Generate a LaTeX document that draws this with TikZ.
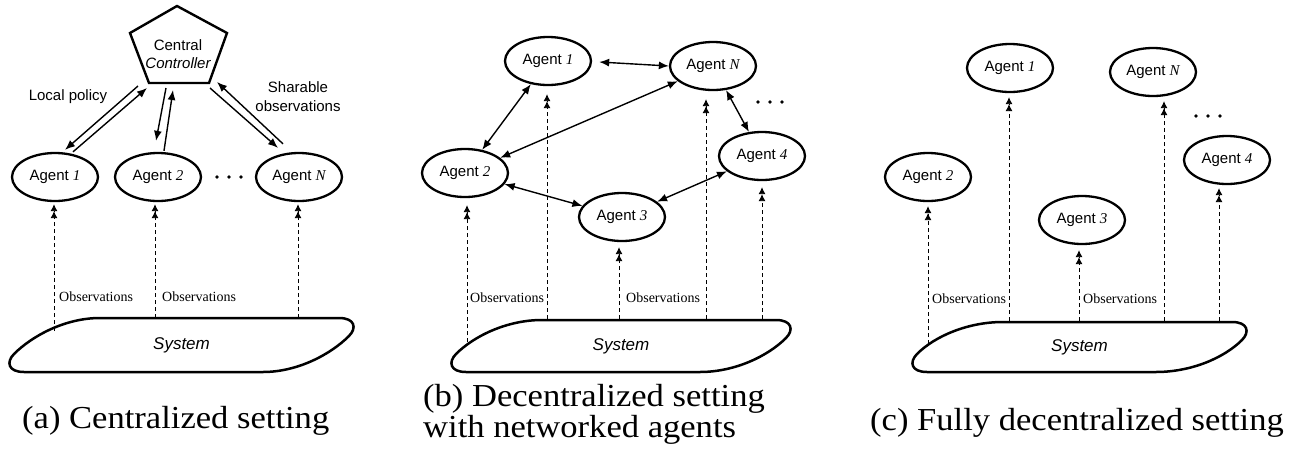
\documentclass[tikz,border=0pt]{standalone}
\usepackage{fontspec}
\usetikzlibrary{arrows.meta,shapes.geometric,calc}
\newfontfamily\lsans{Liberation Sans}
\newfontfamily\lserif{Liberation Serif}
\newfontfamily\capfont[FakeStretch=1.08]{Liberation Serif}
\newcommand\agt[1]{{\lsans Agent\ }{\lserif\itshape #1}}
\newcommand\drawsystem[5]{%
  \draw[sysline] ({#2+90},#4) -- ({#3-14},#4)
    .. controls ({#3+2},#4) and ({#3+4},{#4+10}) .. ({#3-4},{#4+18})
    .. controls ({#3-22},{#4+36}) and ({#3-55},#5) .. ({#3-90},#5)
    -- ({#2+14},#5)
    .. controls ({#2-2},#5) and ({#2-4},{#5-10}) .. ({#2+4},{#5-18})
    .. controls ({#2+22},{#5-36}) and ({#2+55},#4) .. ({#2+90},#4) -- cycle;
  \node[systext] (#1) at ({(#2+#3)/2},{(#4+#5)/2}) {System};
}
\tikzset{
  agent/.style={ellipse, draw, line width=2.3pt, minimum width=86pt, minimum height=48pt, inner sep=0pt,
    font=\fontsize{15}{18}\selectfont},
  sysline/.style={line width=2.5pt, line join=round},
  systext/.style={font=\lsans\itshape\fontsize{17}{20}\selectfont},
  arr/.style={line width=1.4pt, -{Latex[length=10pt,width=8pt]}},
  biarr/.style={line width=1.4pt, {Latex[length=10pt,width=8pt]}-{Latex[length=10pt,width=8pt]}},
  obs/.style={line width=0.9pt, dash pattern=on 4pt off 3pt, -{Latex[length=7pt,width=7pt]Latex[length=7pt,width=7pt]}},
  obslabel/.style={anchor=west, inner sep=0pt, font=\lserif\fontsize{14}{16}\selectfont},
  lbl/.style={align=center, inner sep=0pt, font=\lsans\fontsize{15}{19}\selectfont},
  caption/.style={anchor=base west, inner sep=0pt, font=\capfont\fontsize{32}{32}\selectfont},
  dot/.style={fill=black}
}
\begin{document}
\begin{tikzpicture}[x=1pt,y=-1pt]
\useasboundingbox (0,0) rectangle (1299,453);

% ================= (a) =================
\coordinate (pT) at (177,6);
\coordinate (pL) at (130,33);
\coordinate (pR) at (227,33);
\coordinate (pBR) at (209,83);
\coordinate (pBL) at (149,83);
\draw[line width=2.4pt, line join=miter] (pT) -- (pR) -- (pBR) -- (pBL) -- (pL) -- cycle;
\node[lbl, font=\lsans\fontsize{15}{18}\selectfont] (ctrl) at (178,54) {Central\\\itshape Controller};

\node[agent] (aA1) at (55,177) {\agt{1}};
\node[agent] (aA2) at (158,177) {\agt{2}};
\node[agent] (aAN) at (299,177) {\agt{N}};
\foreach \x in {217,229,241} \fill[dot] (\x,177) circle (1.9pt);

% controller <-> agents (parallel arrow pairs)
\coordinate (c1o) at (138,86);  \coordinate (c1i) at (147,88);
\coordinate (c2o) at (166,88);  \coordinate (c2i) at (173,90);
\coordinate (cNo) at (210,88);  \coordinate (cNi) at (217,82);
\draw[arr] (c1o) -- ($(aA1.north)+(10,-2)$);
\draw[arr] ($(aA1.north)+(18,0)$) -- (c1i);
\draw[arr] (c2o) -- ($(aA2.north)+(-2,-11)$);
\draw[arr] ($(aA2.north)+(6,-1)$) -- (c2i);
\draw[arr] (cNo) -- ($(aAN.north)+(-21,-4)$);
\draw[arr] ($(aAN.north)+(-16,-8)$) -- (cNi);
\node[lbl] (lp) at (68,97) {Local policy};
\node[lbl] (so) at (298,97) {Sharable\\observations};

\drawsystem{sysA}{10}{353}{318}{372}
\coordinate (oA1) at (54,331);
\coordinate (oA2) at (155,318);
\coordinate (oAN) at (298,318);
\draw[obs] (oA1) -- ($(oA1 |- aA1.south)+(0,2)$);
\draw[obs] (oA2) -- ($(oA2 |- aA2.south)+(0,2)$);
\draw[obs] (oAN) -- ($(oAN |- aAN.south)+(0,2)$);
\node[obslabel] (obA1) at (59,297) {Observations};
\node[obslabel] (obA2) at (162,297) {Observations};

\node[caption] (capA) at (22,428) {(a) Centralized setting};

% ================= (b) =================
\node[agent] (bA1) at (548,61) {\agt{1}};
\node[agent] (bAN) at (713,66) {\agt{N}};
\node[agent] (bA2) at (465,173) {\agt{2}};
\node[agent] (bA4) at (762,156) {\agt{4}};
\node[agent] (bA3) at (622,217) {\agt{3}};
\foreach \x in {758,770,782} \fill[dot] (\x,102) circle (1.9pt);

\draw[biarr] ($(bA1.east)+(7,1)$) -- (bAN.west);
\draw[biarr] (bA1) -- (bA2);
\draw[biarr] (bAN) -- (bA2);
\draw[biarr] (bAN) -- (bA4);
\draw[biarr] (bA2) -- (bA3);
\draw[biarr] (bA3) -- (bA4);

\drawsystem{sysB}{452}{790}{320}{372}
\coordinate (oB2) at (467,342);
\coordinate (oB1) at (547,319);
\coordinate (oB3) at (619,319);
\coordinate (oBN) at (706,319);
\coordinate (oB4) at (762,319);
\draw[obs] (oB2) -- ($(oB2 |- bA2.south)+(0,7)$);
\draw[obs] (oB1) -- ($(oB1 |- bA1.south)+(0,8)$);
\draw[obs] (oB3) -- ($(oB3 |- bA3.south)+(0,5)$);
\draw[obs] (oBN) -- ($(oBN |- bAN.south)+(0,8)$);
\draw[obs] (oB4) -- ($(oB4 |- bA4.south)+(0,6)$);
\node[obslabel] (obB1) at (470,298) {Observations};
\node[obslabel] (obB2) at (626,298) {Observations};

\node[caption] (capB1) at (423,406) {(b) Decentralized setting};
\node[caption] (capB2) at (423,437) {with networked agents};

% ================= (c) =================
\node[agent] (cA1) at (1010,68) {\agt{1}};
\node[agent] (cAN) at (1153,72) {\agt{N}};
\node[agent] (cA2) at (928,177) {\agt{2}};
\node[agent] (cA4) at (1227,160) {\agt{4}};
\node[agent] (cA3) at (1082,220) {\agt{3}};
\foreach \x in {1196,1208,1220} \fill[dot] (\x,116) circle (1.9pt);

\drawsystem{sysC}{913}{1246}{322}{372}
\coordinate (oC2) at (928,344);
\coordinate (oC1) at (1009,321);
\coordinate (oC3) at (1079,321);
\coordinate (oCN) at (1164,321);
\coordinate (oC4) at (1219,321);
\draw[obs] (oC2) -- ($(oC2 |- cA2.south)+(0,4)$);
\draw[obs] (oC1) -- ($(oC1 |- cA1.south)+(0,4)$);
\draw[obs] (oC3) -- ($(oC3 |- cA3.south)+(0,5)$);
\draw[obs] (oCN) -- ($(oCN |- cAN.south)+(0,4)$);
\draw[obs] (oC4) -- ($(oC4 |- cA4.south)+(0,3)$);
\node[obslabel] (obC1) at (932,299) {Observations};
\node[obslabel] (obC2) at (1083,299) {Observations};

\node[caption] (capC) at (870,430) {(c) Fully decentralized setting};
\end{tikzpicture}
\end{document}
